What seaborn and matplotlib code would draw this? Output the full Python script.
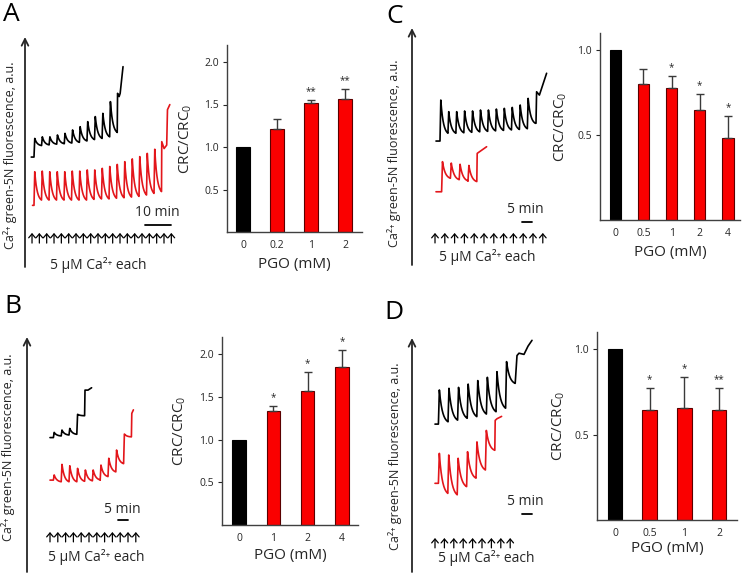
import numpy as np
import pandas as pd
import seaborn as sns
import matplotlib.pyplot as plt

# ---- bar charts: CRC/CRC0 (mean, upper error) vs PGO (mM) ----
a_pgo = ["0", "0.2", "1", "2"]
a_crc = [1.0, 1.21, 1.52, 1.56]
a_err = [0.0, 0.12, 0.03, 0.12]
a_sig = ["", "", "**", "**"]

b_pgo = ["0", "1", "2", "4"]
b_crc = [1.0, 1.33, 1.57, 1.85]
b_err = [0.0, 0.06, 0.22, 0.20]
b_sig = ["", "*", "*", "*"]

c_pgo = ["0", "0.5", "1", "2", "4"]
c_crc = [1.0, 0.80, 0.775, 0.65, 0.48]
c_err = [0.0, 0.09, 0.07, 0.09, 0.13]
c_sig = ["", "", "*", "*", "*"]

d_pgo = ["0", "0.5", "1", "2"]
d_crc = [1.0, 0.645, 0.655, 0.645]
d_err = [0.0, 0.13, 0.18, 0.13]
d_sig = ["", "*", "*", "**"]

# ---- Ca2+ green-5N traces: time (min), signal (a.u., 0-100 along the arrow) ----
# start point, first pulse, pulse interval, peak/trough after each pulse, end points
a_blk_start = (2.4, 47.8)
a_blk_t0, a_blk_dt = 3.46, 2.91
a_blk_peaks = [55.9, 56.6, 56.6, 57.4, 58.1, 59.6, 61.0, 63.2, 65.4, 66.8, 71.9]
a_blk_troughs = [52.8, 53.1, 53.4, 53.6, 53.9, 54.2, 54.8, 55.4, 55.9, 56.6, 58.5]
a_blk_tail = [(35.6, 75.5), (36.2, 74.1), (36.6, 75.5), (37.7, 87.1)]

a_red_start = (2.9, 26.8)
a_red_t0, a_red_dt = 3.46, 2.885
a_red_peaks = [41.4, 41.7, 41.4, 41.4, 41.4, 41.7, 41.7, 42.2, 42.2, 42.9, 43.7,
               44.6, 45.8, 47.0, 48.0, 49.4, 51.2]
a_red_troughs = [29.1, 29.1, 29.1, 29.1, 29.1, 29.1, 29.1, 29.4, 29.6, 29.6, 29.9,
                 30.1, 30.4, 30.7, 31.3, 32.0, 32.8]
a_red_tail = [(52.6, 54.5), (53.5, 51.5), (54.5, 53.0), (54.8, 68.4), (55.7, 70.6)]

b_blk_start = (11.5, 57.2)
b_blk_t0, b_blk_dt = 13.2, 3.9
b_blk_peaks = [59.4, 60.4, 61.1, 67.1]
b_blk_troughs = [57.9, 58.3, 58.6, 66.5]
b_blk_tail = [(29.0, 77.4), (30.5, 77.4), (32.3, 78.4)]

b_red_start = (11.5, 39.1)
b_red_t0, b_red_dt = 13.2, 3.9
b_red_peaks = [41.3, 45.8, 45.2, 44.1, 43.4, 43.4, 45.5, 48.4, 51.9, 58.7]
b_red_troughs = [38.4, 38.4, 38.4, 38.6, 38.8, 39.2, 40.6, 42.6, 46.1, 57.5]
b_red_tail = [(52.4, 67.5), (53.2, 69.0)]

c_blk_start = (12.0, 52.3)
c_blk_t0, c_blk_dt = 14.0, 3.97
c_blk_peaks = [69.6, 64.7, 64.7, 65.0, 65.0, 65.4, 65.4, 65.8, 66.1, 66.5, 67.5, 70.3]
c_blk_troughs = [55.6, 55.6, 55.8, 56.0, 56.2, 56.4, 56.6, 56.8, 57.0, 57.2, 57.5, 59.8]
c_blk_tail = [(62.0, 59.8), (62.3, 73.1), (63.7, 71.7), (67.3, 80.9)]

c_red_start = (12.0, 30.9)
c_red_t0, c_red_dt = 14.8, 4.4
c_red_peaks = [43.6, 43.0, 42.5, 42.0]
c_red_troughs = [36.6, 36.0, 35.5, 35.2]
c_red_tail = [(32.6, 47.1), (37.3, 49.9)]

d_blk_start = (11.5, 63.2)
d_blk_t0, d_blk_dt = 13.2, 4.8
d_blk_peaks = [77.8, 78.5, 78.9, 80.3, 81.8, 83.2, 85.6, 89.9]
d_blk_troughs = [64.2, 64.9, 65.7, 66.4, 67.5, 68.5, 70.0, 80.6]
d_blk_tail = [(52.5, 92.5), (53.5, 93.5), (56.0, 93.0), (58.0, 96.5), (60.0, 99.0)]

d_red_start = (11.5, 37.9)
d_red_t0, d_red_dt = 13.2, 4.7
d_red_peaks = [50.7, 50.0, 48.6, 51.4, 55.6, 60.5]
d_red_troughs = [33.6, 33.0, 36.5, 40.1, 43.6, 52.0]
d_red_tail = [(41.6, 64.8), (42.5, 65.5), (44.8, 66.5)]

# Ca2+ additions (first time, interval, count) and scale bars (min)
a_add = (2.7, 2.82, 20)
b_add = (11.5, 3.9, 12)
c_add = (11.5, 4.9, 12)
d_add = (11.5, 4.7, 9)
a_scale, b_scale, c_scale, d_scale = 10, 5, 5, 5

sns.set_style("ticks")
plt.rcParams['font.family'] = ['Open Sans', 'DejaVu Sans']
plt.rcParams['mathtext.fontset'] = 'custom'
plt.rcParams['mathtext.rm'] = 'Open Sans'
TXT = '#262626'
RED_BAR = '#fa0000'
RED_LINE = '#e3161b'

W, H = 745, 576
fig = plt.figure(figsize=(W / 100, H / 100), dpi=100)


def px_axes(left, top, right, bottom):
    return fig.add_axes([left / W, 1 - bottom / H, (right - left) / W, (bottom - top) / H])


def build_trace(start, t0, dt, peaks, troughs, tail):
    t, y = [start[0]], [start[1]]
    s = np.linspace(0, 1, 20)
    k = 2.8
    shape = (np.exp(-k * s) - np.exp(-k)) / (1 - np.exp(-k))
    for i, (p, tr) in enumerate(zip(peaks, troughs)):
        ti = t0 + i * dt
        rise = 0.1 * dt
        t += [ti]
        y += [y[-1]]
        tt = ti + rise + s * (dt - rise)
        t += list(tt)
        y += list(tr + (p - tr) * shape)
    for pt in tail:
        t.append(pt[0])
        y.append(pt[1])
    return t, y


def trace_panel(rect, xmax, traces, add, add_y, scale, scale_xy, label_xy):
    ax = px_axes(*rect)
    for (st, t0, dt, pk, tr, tail), col in traces:
        t, y = build_trace(st, t0, dt, pk, tr, tail)
        sns.lineplot(x=t, y=y, ax=ax, color=col, lw=1.2, sort=False, estimator=None)
    ax.set_xlim(0, xmax)
    ax.set_ylim(0, 100)
    ax.axis('off')
    # fluorescence axis arrow
    ax.annotate("", xy=(0, 1), xytext=(0, 0), xycoords='axes fraction',
                arrowprops=dict(arrowstyle='->', lw=1.3, color=TXT,
                                shrinkA=0, shrinkB=0, mutation_scale=12),
                annotation_clip=False)
    # Ca2+ additions
    a0, adt, n = add
    for i in range(n):
        ti = a0 + i * adt
        ax.annotate("", xy=(ti, add_y[1]), xytext=(ti, add_y[0]),
                    arrowprops=dict(arrowstyle='->,head_length=0.35,head_width=0.3',
                                    lw=0.9, color='black', shrinkA=0, shrinkB=0,
                                    mutation_scale=8),
                    annotation_clip=False)
    # scale bar
    sx, sy, tx, ty = scale_xy
    ax.plot([sx, sx + scale], [sy, sy], color='black', lw=1.3, clip_on=False)
    ax.text(tx, ty, f"{scale} min", ha='center', va='center', fontsize=10, color=TXT)
    ax.text(label_xy[0], label_xy[1], "5 µM Ca²⁺ each", ha='center', va='center',
            fontsize=10, color=TXT, family=['Open Sans', 'DejaVu Sans'])
    return ax


def bar_panel(rect, pgo, crc, err, sig, ymax, yticks, xlim, width, ylpad, xlpad):
    ax = px_axes(*rect)
    df = pd.DataFrame({"PGO": pgo, "CRC": crc})
    pal = {p: ('black' if i == 0 else RED_BAR) for i, p in enumerate(pgo)}
    sns.barplot(data=df, x="PGO", y="CRC", hue="PGO", palette=pal, legend=False,
                width=width, edgecolor='#5a0000', linewidth=0.8, ax=ax, saturation=1)
    for patch in ax.patches[:1]:
        patch.set_edgecolor('black')
    idx = [i for i, e in enumerate(err) if e > 0]
    ax.errorbar(idx, [crc[i] for i in idx], yerr=[[0] * len(idx), [err[i] for i in idx]],
                fmt='none', ecolor='#3a3a3a', elinewidth=1, capsize=3, capthick=1)
    for i, s in enumerate(sig):
        if s:
            ax.annotate(s, xy=(i, crc[i] + err[i]), xytext=(0, 6), textcoords='offset points',
                        ha='center', va='center', fontsize=7, color=TXT)
    ax.set_ylim(0, ymax)
    ax.set_xlim(*xlim)
    ax.set_yticks(yticks)
    ax.set_yticklabels([f"{v:.1f}" for v in yticks])
    ax.set_ylabel("CRC/CRC$_0$", fontsize=11, color=TXT, labelpad=ylpad)
    ax.set_xlabel("PGO (mM)", fontsize=11, color=TXT, labelpad=xlpad)
    ax.tick_params(axis='x', length=0, pad=6, labelsize=7.5, colors=TXT)
    ax.tick_params(axis='y', length=3, width=0.8, pad=3, labelsize=7.5, colors=TXT)
    sns.despine(ax=ax)
    for sp in ['left', 'bottom']:
        ax.spines[sp].set_color('#404040')
        ax.spines[sp].set_linewidth(1)
    return ax


# ---- A ----
trace_panel((25, 37, 185, 267), 160 / 2.6,
            [((a_blk_start, a_blk_t0, a_blk_dt, a_blk_peaks, a_blk_troughs, a_blk_tail), 'black'),
             ((a_red_start, a_red_t0, a_red_dt, a_red_peaks, a_red_troughs, a_red_tail), RED_LINE)],
            a_add, (10.4, 14.8), a_scale, (46.2, 18.3, 51.0, 23.8), (28.1, 1.0))
bar_panel((227, 45, 362, 232), a_pgo, a_crc, a_err, a_sig, 2.2, [0.5, 1.0, 1.5, 2.0],
          (-0.47, 3.5), 0.43, 7, 4)

# ---- B ----
trace_panel((27, 337, 160, 572), 133 / 2.0,
            [((b_blk_start, b_blk_t0, b_blk_dt, b_blk_peaks, b_blk_troughs, b_blk_tail), 'black'),
             ((b_red_start, b_red_t0, b_red_dt, b_red_peaks, b_red_troughs, b_red_tail), RED_LINE)],
            b_add, (12.8, 17.0), b_scale, (45.5, 22.1, 47.8, 26.6), (34.5, 6.4))
bar_panel((222, 337, 358, 525), b_pgo, b_crc, b_err, b_sig, 2.2, [0.5, 1.0, 1.5, 2.0],
          (-0.5, 3.47), 0.40, 8, 3)

# ---- C ----
trace_panel((412, 28, 555, 265), 143 / 2.0,
            [((c_blk_start, c_blk_t0, c_blk_dt, c_blk_peaks, c_blk_troughs, c_blk_tail), 'black'),
             ((c_red_start, c_red_t0, c_red_dt, c_red_peaks, c_red_troughs, c_red_tail), RED_LINE)],
            c_add, (9.3, 13.5), c_scale, (55.0, 18.1, 56.5, 23.4), (37.7, 3.4))
bar_panel((600, 33, 740, 220), c_pgo, c_crc, c_err, c_sig, 1.1, [0.5, 1.0],
          (-0.54, 4.43), 0.40, 6, 4)

# ---- D ----
trace_panel((412, 338, 545, 572), 133 / 2.0,
            [((d_blk_start, d_blk_t0, d_blk_dt, d_blk_peaks, d_blk_troughs, d_blk_tail), 'black'),
             ((d_red_start, d_red_t0, d_red_dt, d_red_peaks, d_red_troughs, d_red_tail), RED_LINE)],
            d_add, (10.3, 14.5), d_scale, (55.0, 24.8, 56.5, 30.2), (37.0, 6.0))
bar_panel((597, 332, 737, 520), d_pgo, d_crc, d_err, d_sig, 1.1, [0.5, 1.0],
          (-0.52, 3.52), 0.43, 5, 1)

# panel letters and trace axis labels
for letter, x, y in [("A", 3, 2), ("B", 4, 294), ("C", 386, 4), ("D", 384, 300)]:
    fig.text(x / W, 1 - y / H, letter, fontsize=19, ha='left', va='top', color='black')
for x, y in [(10, 155), (8, 447), (394, 153), (395, 456)]:
    fig.text(x / W, 1 - y / H, "Ca²⁺ green-5N fluorescence, a.u.", rotation=90,
             ha='center', va='center', fontsize=9, color=TXT,
             family=['Open Sans', 'DejaVu Sans'])

fig.savefig("out.png", dpi=100)
